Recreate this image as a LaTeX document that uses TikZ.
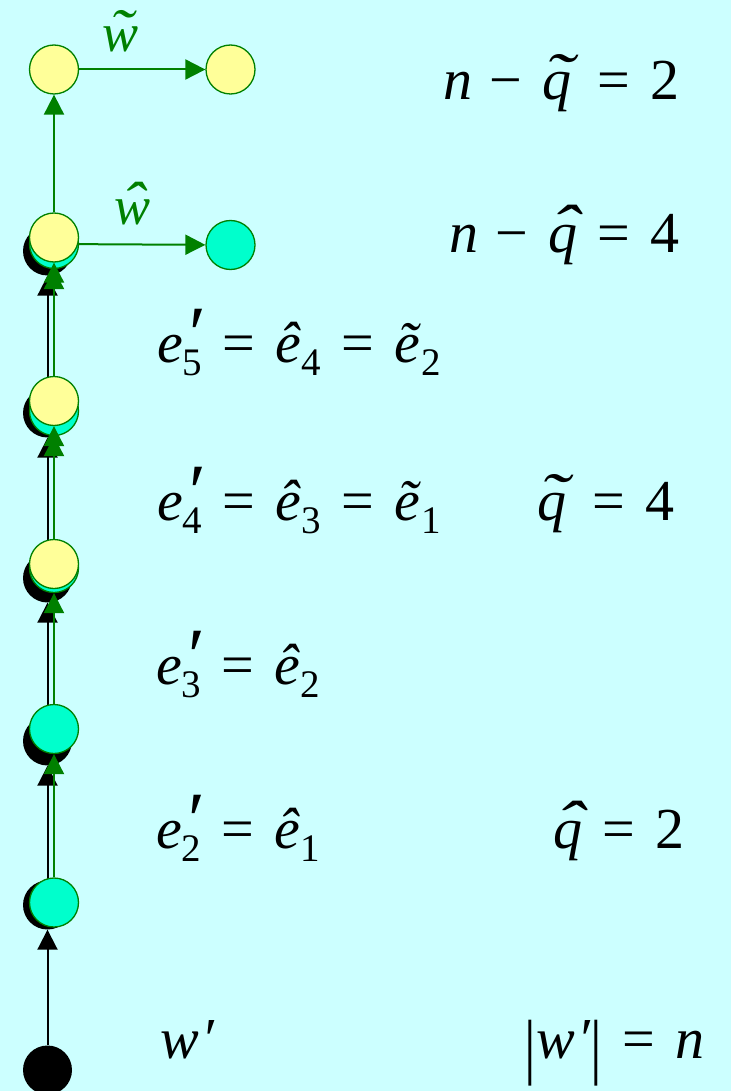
\documentclass[tikz,border=0pt]{standalone}
\usepackage{fontspec}
\setmainfont{Liberation Serif}
\usepackage{graphicx}
\usetikzlibrary{arrows.meta}
\definecolor{bgc}{RGB}{204,255,255}
\definecolor{cyn}{RGB}{0,255,204}
\definecolor{ylw}{RGB}{255,255,153}
\definecolor{grn}{RGB}{0,128,0}
\newcommand\sbs[1]{\raisebox{-0.24em}{\fontsize{39}{40}\selectfont #1}}
\newcommand\prm{\rlap{\hspace{0.02em}\raisebox{0.02em}{\scalebox{1.35}{\textit{′}}}}}
\newcommand\eqs{\hspace{0.35em}=\hspace{0.35em}}
\newcommand\vbar{\raisebox{-0.22em}{\scalebox{1}[1.25]{|}}}
\newcommand\accq[1]{\ooalign{\textit{q}\cr\hidewidth\kern0.14em\raisebox{0.04em}{\scalebox{1.5}[1.1]{\textit{#1}}}\hidewidth\cr}}
\newcommand\accw[1]{\ooalign{\textit{w}\cr\hidewidth\kern0.1em\raisebox{0.02em}{\scalebox{1.3}[1.1]{\textit{#1}}}\hidewidth\cr}}
\begin{document}
\begin{tikzpicture}[x=1pt,y=-1pt,
 dot/.style={circle,minimum size=49pt,inner sep=0pt},
 bdot/.style={dot,fill=black},
 cdot/.style={dot,fill=cyn,draw=grn,line width=1.3pt},
 ydot/.style={dot,fill=ylw,draw=grn,line width=1.3pt},
 barr/.style={draw=black,line width=2pt,-{Triangle[width=20pt,length=20pt]}},
 garr/.style={draw=grn,line width=2pt,-{Triangle[width=20pt,length=20pt]}},
 txt/.style={font=\fontsize{58}{60}\selectfont,inner sep=0pt},
 lbl/.style={font=\fontsize{54}{56}\selectfont,inner sep=0pt,text=grn},
 ]
\fill[bgc] (0,0) rectangle (731,1091);
\useasboundingbox (0,0) rectangle (731,1091);
% black chain
\node[bdot] (b0) at (47.5,1070) {};
\node[bdot] (b1) at (47.5,905) {};
\node[bdot] (b2) at (47.5,741) {};
\node[bdot] (b3) at (47.5,578) {};
\node[bdot] (b4) at (47.5,413) {};
\node[bdot] (b5) at (47.5,251) {};
\draw[barr] (b0) -- (b1);
\draw[barr] (b1) -- (b2);
\draw[barr] (b2) -- (b3);
\draw[barr] (b3) -- (b4);
\draw[barr] (b4) -- (b5);
% cyan chain
\node[cdot] (c1) at (54,902.5) {};
\node[cdot] (c2) at (54,729) {};
\node[cdot] (c3) at (54,568) {};
\node[cdot] (c4) at (54,411) {};
\node[cdot] (c5) at (54,244) {};
\node[cdot] (cr) at (230.5,245) {};
\draw[garr] (c1) -- (c2);
\draw[garr] (c2) -- (c3);
\draw[garr] (c3) -- (c4);
\draw[garr] (c4) -- (c5);
\draw[garr] (c5) -- (cr);
\node[lbl,anchor=base west] (lw1) at (114,225) {\accw{ˆ}};
% yellow chain
\node[ydot] (y1) at (54,564) {};
\node[ydot] (y2) at (54,401) {};
\node[ydot] (y3) at (54,237.5) {};
\node[ydot] (y4) at (54,69.5) {};
\node[ydot] (yr) at (230.5,69.5) {};
\draw[garr] (y1) -- (y2);
\draw[garr] (y2) -- (y3);
\draw[garr] (y3) -- (y4);
\draw[garr] (y4) -- (yr);
\node[lbl,anchor=base west] (lw2) at (102,52) {\accw{˜}};
% texts
\node[txt,anchor=base west] (t5) at (157,362) {\textit{e}\prm\sbs{5}\eqs\textit{ê}\sbs{4}\eqs\textit{ẽ}\sbs{2}};
\node[txt,anchor=base west] (t4) at (157,520) {\textit{e}\prm\sbs{4}\eqs\textit{ê}\sbs{3}\eqs\textit{ẽ}\sbs{1}};
\node[txt,anchor=base west] (t3) at (156,684) {\textit{e}\prm\sbs{3}\eqs\textit{ê}\sbs{2}};
\node[txt,anchor=base west] (t2) at (156,848) {\textit{e}\prm\sbs{2}\eqs\textit{ê}\sbs{1}};
\node[txt,anchor=base west] (tw) at (160,1058) {\textit{w}\hspace{0.04em}\textit{′}};
\node[txt,anchor=base east] (r1) at (680,100) {\textit{n}\hspace{0.3em}−\hspace{0.35em}\accq{˜}\hspace{0.1em}\eqs 2};
\node[txt,anchor=base east] (r2) at (680,252) {\textit{n}\hspace{0.3em}−\hspace{0.35em}\accq{ˆ}\eqs 4};
\node[txt,anchor=base east] (r3) at (675,520) {\accq{˜}\hspace{0.1em}\eqs 4};
\node[txt,anchor=base east] (r4) at (685,848) {\accq{ˆ}\eqs 2};
\node[txt,anchor=base east] (r5) at (705,1058) {\vbar\textit{w}\hspace{0.04em}\textit{′}\vbar\eqs\textit{n}};
\end{tikzpicture}
\end{document}
